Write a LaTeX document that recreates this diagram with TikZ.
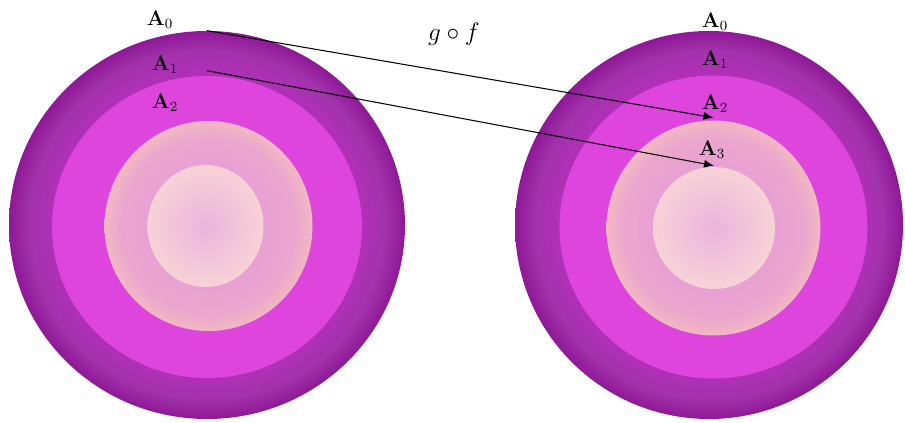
\documentclass[tikz,border=0pt]{standalone}
\usepackage{tikz}
\usetikzlibrary{arrows.meta,shapes.geometric}
\definecolor{plum700}   {HTML}{8E1896}
\definecolor{plum600}   {HTML}{A232AC}
\definecolor{plum500}   {HTML}{B030B8}
\definecolor{magenta500}{HTML}{DD45DD}
\definecolor{rose300}   {HTML}{E9A0D4}
\definecolor{rose250}   {HTML}{EBA6CE}
\definecolor{peach200}  {HTML}{F2B8C2}
\definecolor{blush200}  {HTML}{ECB4DE}
\definecolor{blush100}  {HTML}{F6D2D6}
\pgfdeclareradialshading{outershade}{\pgfpoint{0bp}{0bp}}{%
  color(0bp)=(plum500); color(19.5bp)=(plum500); color(22.5bp)=(plum600);
  color(25bp)=(plum700); color(50bp)=(plum700)}
\pgfdeclareradialshading{peachshade}{\pgfpoint{0bp}{0bp}}{%
  color(0bp)=(rose300); color(14bp)=(rose300); color(21bp)=(rose250);
  color(25bp)=(peach200); color(50bp)=(peach200)}
\pgfdeclareradialshading{coreshade}{\pgfpoint{0bp}{0bp}}{%
  color(0bp)=(blush200); color(25bp)=(blush100); color(50bp)=(blush100)}
\tikzset{
  layer/.style ={ellipse, inner sep=0pt, draw=none},
  outerl/.style={layer, shade, shading=outershade},
  magl/.style  ={layer, fill=magenta500},
  peachl/.style={layer, shade, shading=peachshade},
  corel/.style ={layer, shade, shading=coreshade},
  lbl/.style   ={font=\large, inner sep=1pt},
  ar/.style    ={-{Latex[length=2mm,width=1.6mm]}, draw=black, line width=0.6pt}
}
\begin{document}
\begin{tikzpicture}
\useasboundingbox (0,0) rectangle (18.1,8.46);
% left set
\node[outerl, minimum width=7.92cm, minimum height=7.76cm] (L0) at (4.14,3.96) {};
\node[magl,   minimum width=6.2cm,  minimum height=6.04cm] (L1) at (4.14,3.92) {};
\node[peachl, minimum width=4.16cm, minimum height=4.2cm]  (L2) at (4.17,3.94) {};
\node[corel,  minimum width=2.32cm, minimum height=2.44cm] (L3) at (4.11,3.94) {};
% right set
\node[outerl, minimum width=7.76cm, minimum height=7.76cm] (R0) at (14.18,3.96) {};
\node[magl,   minimum width=6.16cm, minimum height=6.06cm] (R1) at (14.27,3.92) {};
\node[peachl, minimum width=4.28cm, minimum height=4.3cm]  (R2) at (14.27,3.9) {};
\node[corel,  minimum width=2.44cm, minimum height=2.44cm] (R3) at (14.28,3.9) {};

\node[lbl] (la0) at (3.2,8.06)  {$\mathbf{A}_0$};
\node[lbl] (la1) at (3.3,7.16)  {$\mathbf{A}_1$};
\node[lbl] (la2) at (3.3,6.4)   {$\mathbf{A}_2$};
\node[lbl] (ra0) at (14.3,8.02) {$\mathbf{A}_0$};
\node[lbl] (ra1) at (14.3,7.26) {$\mathbf{A}_1$};
\node[lbl] (ra2) at (14.3,6.38) {$\mathbf{A}_2$};
\node[lbl] (ra3) at (14.24,5.46){$\mathbf{A}_3$};
\node[lbl, font=\Large] (gf) at (9.08,7.78) {$g\circ f$};

\draw[ar] (L0.north) -- ([yshift=0.05cm]R2.north);
\draw[ar] ([yshift=0.1cm]L1.north) -- ([yshift=0.02cm]R3.north);
\end{tikzpicture}
\end{document}
